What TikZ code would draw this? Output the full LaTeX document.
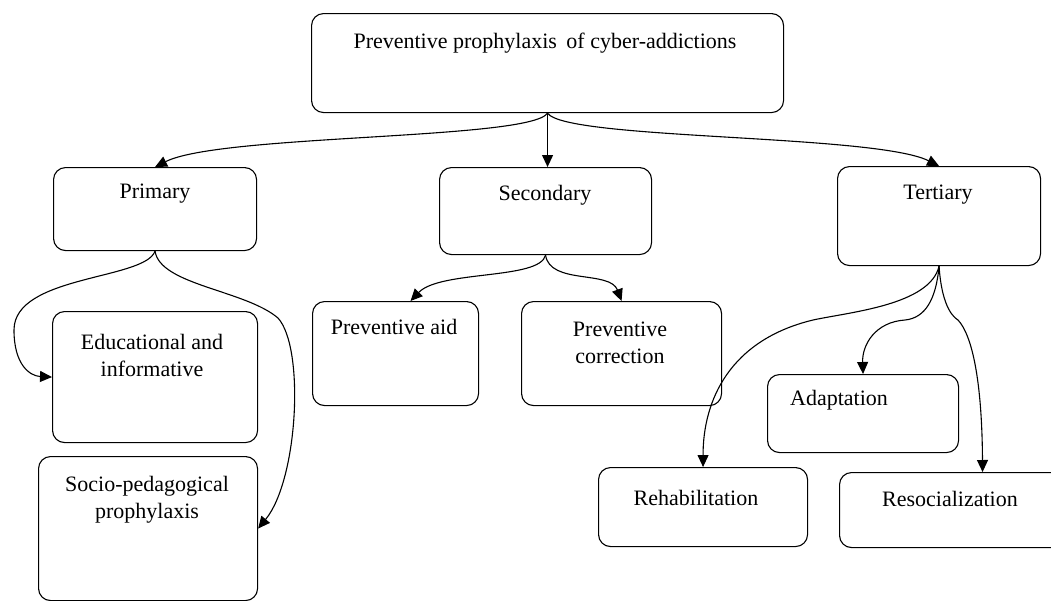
\documentclass[tikz,border=0pt]{standalone}
\usepackage{fontspec}
\setmainfont{Liberation Serif}
\usetikzlibrary{arrows.meta}
\begin{document}
\begin{tikzpicture}[x=1pt,y=-1pt,
  box/.style={draw, line width=1.1pt, rounded corners=12pt, inner sep=0pt, anchor=north west},
  txt/.style={inner sep=0pt, align=center, font=\fontsize{22}{27}\selectfont},
  conn/.style={line width=1.1pt, -{Triangle[length=12pt,width=11pt]}}]
\useasboundingbox (0,0) rectangle (1051,600);
% boxes
\node[box, minimum width=472pt, minimum height=99pt] (top) at (311,13) {};
\node[box, minimum width=203pt, minimum height=83pt] (prim) at (53,167) {};
\node[box, minimum width=212pt, minimum height=87pt] (sec) at (439,167) {};
\node[box, minimum width=203pt, minimum height=99pt] (ter) at (837,166) {};
\node[box, minimum width=205pt, minimum height=131pt] (edu) at (52,311) {};
\node[box, minimum width=219pt, minimum height=144pt] (soc) at (38,456) {};
\node[box, minimum width=166pt, minimum height=104pt] (paid) at (312,301) {};
\node[box, minimum width=200pt, minimum height=104pt] (pcor) at (521,301) {};
\node[box, minimum width=191pt, minimum height=78pt] (adapt) at (767,374) {};
\node[box, minimum width=209pt, minimum height=79pt] (rehab) at (598,467) {};
\node[box, minimum width=226pt, minimum height=75pt] (resoc) at (839,472) {};
% texts
\node[txt] (top-t) at (545,43) {Preventive prophylaxis\hspace{4pt} of cyber-addictions};
\node[txt] (prim-t) at (155,194) {Primary};
\node[txt] (sec-t) at (545,195) {Secondary};
\node[txt] (ter-t) at (938,195) {Tertiary};
\node[txt] (edu-t) at (152,355) {Educational and\\informative};
\node[txt] (soc-t) at (147,500) {Socio-pedagogical\\prophylaxis};
\node[txt] (paid-t) at (394,327) {Preventive aid};
\node[txt] (pcor-t) at (620,343) {Preventive\\correction};
\node[txt] (adapt-t) at (839,400) {Adaptation};
\node[txt] (rehab-t) at (696,498) {Rehabilitation};
\node[txt] (resoc-t) at (950,499) {Resocialization};
% connectors
\draw[conn] (top.south) .. controls (530,140) and (220,134) .. (prim.north);
\draw[conn] (top.south) -- (top.south |- sec.north);
\draw[conn] (top.south) .. controls (565,140) and (875,134) .. (ter.north);
\draw[conn] (prim.south) .. controls (145,280) and (14,275) .. (14,330) .. controls (14,365) and (30,376) .. (edu.west);
\draw[conn] (prim.south) .. controls (160,285) and (245,290) .. (278,318) .. controls (305,348) and (298,480) .. (soc.east);
\draw[conn] (sec.south) .. controls (540,280) and (440,270) .. ([xshift=15pt]paid.north);
\draw[conn] (sec.south) .. controls (550,285) and (610,270) .. (pcor.north);
\draw[conn] (ter.south) .. controls (930,305) and (850,312) .. (813,320) .. controls (730,340) and (703,400) .. (rehab.north);
\draw[conn] (ter.south) .. controls (936,300) and (925,318) .. (905,320) .. controls (875,322) and (862,345) .. (adapt.north);
\draw[conn] (ter.south) .. controls (942,310) and (955,318) .. (958,320) .. controls (972,335) and (982,380) .. ([xshift=30pt]resoc.north);
\end{tikzpicture}
\end{document}
